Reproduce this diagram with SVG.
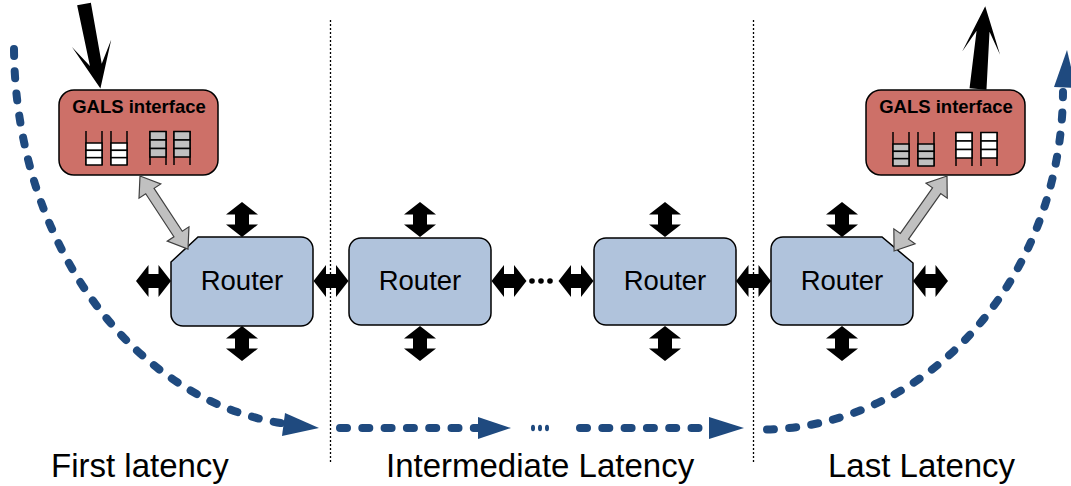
<svg xmlns="http://www.w3.org/2000/svg" xmlns:xlink="http://www.w3.org/1999/xlink" width="1071" height="486" viewBox="0 0 1071 486">
  <style>
    .gals { fill: #CD7068; stroke: #000; stroke-width: 1.5; }
    .router { fill: #B0C3DC; stroke: #000; stroke-width: 1.5; }
    .galsText { font-family: "Liberation Sans", Arial, sans-serif; font-weight: bold; font-size: 18.5px; fill: #000; text-anchor: middle; }
    .routerText { font-family: "Liberation Sans", Arial, sans-serif; font-size: 27.5px; fill: #000; text-anchor: middle; }
    .label { font-family: "Liberation Sans", Arial, sans-serif; font-size: 33px; fill: #000; }
    .divider { stroke: #000; stroke-width: 1.3; stroke-dasharray: 2 2; fill: none; }
    .flow { stroke: #1F4A7F; stroke-width: 8; stroke-linecap: round; stroke-dasharray: 7 15.3; fill: none; }
    .flowHead { fill: #1F4A7F; }
    .link { fill: #000; }
    .bus { fill: #C0C0C0; stroke: #404040; stroke-width: 1.2; }
    .fifoLine { stroke: #000; stroke-width: 1.5; fill: none; }
    .fifoCell { fill: currentColor; stroke: #000; stroke-width: 1.5; }
  </style>
  <defs>
    <!-- black bidirectional link, vertical, centred on origin -->
    <polygon id="vLink" points="0,-17.5 16,-5 7,-5 7,5 16,5 0,17.5 -16,5 -7,5 -7,-5 -16,-5"/>
    <!-- same link, horizontal -->
    <polygon id="hLink" points="-17.5,0 -5,-16 -5,-7 5,-7 5,-16 17.5,0 5,16 5,7 -5,7 -5,16"/>
    <!-- FIFO with its cells filled at the bottom -->
    <g id="fifoLow">
      <line class="fifoLine" x1="0" y1="0" x2="0" y2="34"/>
      <line class="fifoLine" x1="16" y1="0" x2="16" y2="34"/>
      <rect class="fifoCell" x="0" y="12" width="16" height="7.33"/>
      <rect class="fifoCell" x="0" y="19.33" width="16" height="7.33"/>
      <rect class="fifoCell" x="0" y="26.67" width="16" height="7.33"/>
    </g>
    <!-- FIFO with its cells filled at the top -->
    <g id="fifoHigh">
      <line class="fifoLine" x1="0" y1="0" x2="0" y2="34"/>
      <line class="fifoLine" x1="16" y1="0" x2="16" y2="34"/>
      <rect class="fifoCell" x="0" y="0.5" width="16" height="8.5"/>
      <rect class="fifoCell" x="0" y="9" width="16" height="8.5"/>
      <rect class="fifoCell" x="0" y="17.5" width="16" height="8.5"/>
    </g>
  </defs>

  <rect width="1071" height="486" fill="#fff"/>

  <!-- region dividers -->
  <g id="dividers">
    <line class="divider" x1="330.5" y1="20" x2="330.5" y2="463"/>
    <line class="divider" x1="753.5" y1="20" x2="753.5" y2="463"/>
  </g>

  <!-- latency flow -->
  <g id="flow">
    <path class="flow" d="M 14 49 A 306 381 0 0 0 287 424"/>
    <polygon class="flowHead" points="319,428 285,413 282,436"/>
    <path class="flow" d="M 340 428 H 480"/>
    <polygon class="flowHead" points="511,428 478,417 478,439"/>
    <ellipse class="flowHead" cx="533" cy="428" rx="2" ry="3.2"/>
    <ellipse class="flowHead" cx="540" cy="428" rx="2" ry="3.2"/>
    <ellipse class="flowHead" cx="547" cy="428" rx="2" ry="3.2"/>
    <path class="flow" d="M 580 428 H 710"/>
    <polygon class="flowHead" points="744,428 709,417 709,439"/>
    <path class="flow" d="M 767 429.5 A 303 340 0 0 0 1063 92"/>
    <polygon class="flowHead" points="1067,50 1054,87 1076,88"/>
  </g>

  <!-- GALS interfaces -->
  <g id="gals-in">
    <rect class="gals" x="59" y="90" width="159" height="85" rx="15"/>
    <text class="galsText" x="139" y="113">GALS interface</text>
    <use xlink:href="#fifoLow" x="86" y="131" color="#fff"/>
    <use xlink:href="#fifoLow" x="111" y="131" color="#fff"/>
    <use xlink:href="#fifoHigh" x="150" y="131" color="#C0C0C0"/>
    <use xlink:href="#fifoHigh" x="174" y="131" color="#C0C0C0"/>
  </g>
  <g id="gals-out">
    <rect class="gals" x="866" y="90" width="159" height="85" rx="15"/>
    <text class="galsText" x="946" y="113">GALS interface</text>
    <use xlink:href="#fifoLow" x="893" y="132" color="#C0C0C0"/>
    <use xlink:href="#fifoLow" x="918" y="132" color="#C0C0C0"/>
    <use xlink:href="#fifoHigh" x="956" y="132" color="#fff"/>
    <use xlink:href="#fifoHigh" x="981" y="132" color="#fff"/>
  </g>

  <!-- injection / ejection -->
  <g id="io">
    <polygon class="link" transform="translate(84,4) rotate(-11)" points="-7,0 7,0 6,62 20,40 0,86 -20,40 -6,62"/>
    <polygon class="link" transform="translate(978,89) rotate(185)" points="-8.5,0 8.5,0 6.5,58 19,36 0,83 -19,36 -6.5,58"/>
  </g>

  <!-- routers -->
  <g id="router-1">
    <path class="router" d="M 198 237 H 301 A 12 12 0 0 1 313 249 V 314 A 12 12 0 0 1 301 326 H 183 A 12 12 0 0 1 171 314 V 262 Z"/>
    <text class="routerText" x="242" y="290">Router</text>
  </g>
  <g id="router-2">
    <rect class="router" x="349" y="238" width="142" height="87" rx="12"/>
    <text class="routerText" x="420" y="290">Router</text>
  </g>
  <g id="router-3">
    <rect class="router" x="594" y="238" width="142" height="87" rx="12"/>
    <text class="routerText" x="665" y="290">Router</text>
  </g>
  <g id="router-4">
    <path class="router" d="M 783 237 H 882 L 913 263 V 313 A 12 12 0 0 1 901 325 H 783 A 12 12 0 0 1 771 313 V 249 A 12 12 0 0 1 783 237 Z"/>
    <text class="routerText" x="842" y="290">Router</text>
  </g>

  <!-- links -->
  <g id="links">
    <use class="link" xlink:href="#vLink" x="242" y="219.5"/>
    <use class="link" xlink:href="#vLink" x="242" y="343.5"/>
    <use class="link" xlink:href="#vLink" x="420" y="219.5"/>
    <use class="link" xlink:href="#vLink" x="420" y="343.5"/>
    <use class="link" xlink:href="#vLink" x="665" y="219.5"/>
    <use class="link" xlink:href="#vLink" x="665" y="343.5"/>
    <use class="link" xlink:href="#vLink" x="842" y="219.5"/>
    <use class="link" xlink:href="#vLink" x="842" y="343.5"/>
    <use class="link" xlink:href="#hLink" x="153.5" y="281"/>
    <use class="link" xlink:href="#hLink" x="331" y="281"/>
    <use class="link" xlink:href="#hLink" x="509" y="281"/>
    <use class="link" xlink:href="#hLink" x="576" y="281"/>
    <use class="link" xlink:href="#hLink" x="753.5" y="281"/>
    <use class="link" xlink:href="#hLink" x="930.5" y="281"/>
    <circle class="link" cx="532" cy="281" r="2.8"/>
    <circle class="link" cx="541" cy="281" r="2.8"/>
    <circle class="link" cx="550" cy="281" r="2.8"/>
    <!-- GALS to router buses -->
    <polygon class="bus" transform="translate(140,176) rotate(56.7)" points="0,0 18,-13 18,-5 69.4,-5 69.4,-13 87.4,0 69.4,13 69.4,5 18,5 18,13"/>
    <polygon class="bus" transform="translate(947,176) rotate(125.2)" points="0,0 18,-13 18,-5 73.8,-5 73.8,-13 91.8,0 73.8,13 73.8,5 18,5 18,13"/>
  </g>

  <!-- region labels -->
  <g id="labels">
    <text class="label" x="51" y="477">First latency</text>
    <text class="label" x="386" y="477">Intermediate Latency</text>
    <text class="label" x="828" y="477">Last Latency</text>
  </g>
</svg>
